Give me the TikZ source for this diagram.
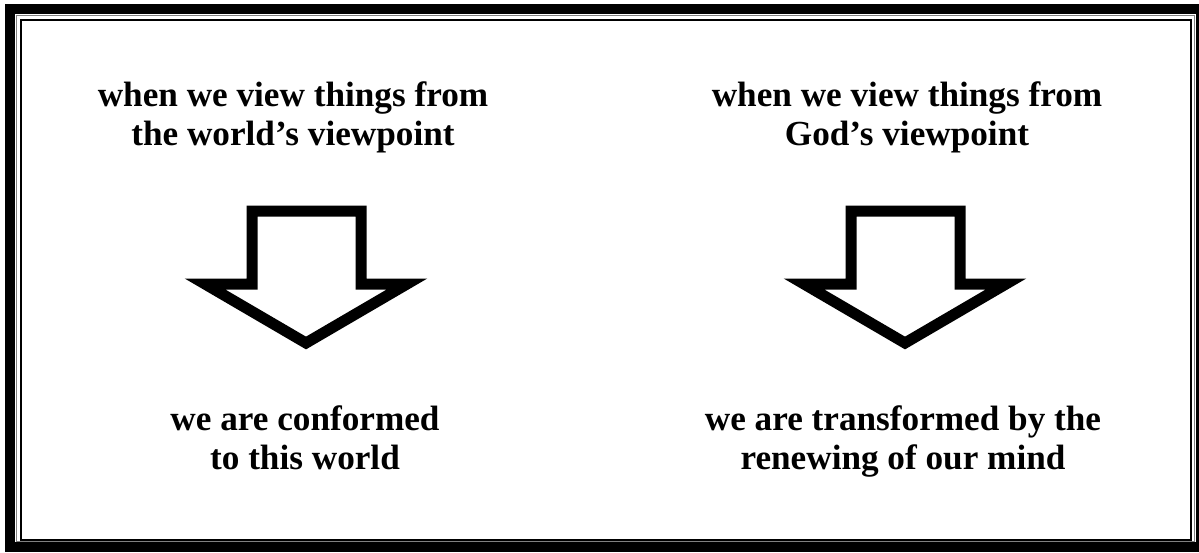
\documentclass[tikz,border=0pt]{standalone}
\usepackage{fontspec}
\setmainfont{Liberation Serif}
\begin{document}
\begin{tikzpicture}[x=1pt,y=-1pt,
  lbl/.style={align=center,font=\fontsize{35.2}{39}\selectfont\bfseries,inner sep=0pt,anchor=base},
  bigarrow/.style={line width=11pt,line join=miter,miter limit=20}]
\useasboundingbox (0,0) rectangle (1199,552);
\fill[white] (0,0) rectangle (1199,552);
\draw[line width=10pt] (10,9) rectangle (1201,547);
\draw[gray,line width=1pt] (16,15.5) rectangle (1194,541.5);
\draw[line width=1.2pt] (21,20) rectangle (1191,540);
\node[lbl] (t1) at (293,145) {when we view things from\\the world’s viewpoint};
\node[lbl] (t2) at (907,145) {when we view things from\\God’s viewpoint};
\node[lbl] (b1) at (305,469) {we are conformed\\to this world};
\node[lbl] (b2) at (903,469) {we are transformed by the\\renewing of our mind};
\draw[bigarrow] (252,211) -- (361,211) -- (361,284) -- (407,284) -- (306,343) -- (205,284) -- (252,284) -- cycle;
\begin{scope}[xshift=599pt]
\draw[bigarrow] (252,211) -- (361,211) -- (361,284) -- (407,284) -- (306,343) -- (205,284) -- (252,284) -- cycle;
\end{scope}
\end{tikzpicture}
\end{document}
